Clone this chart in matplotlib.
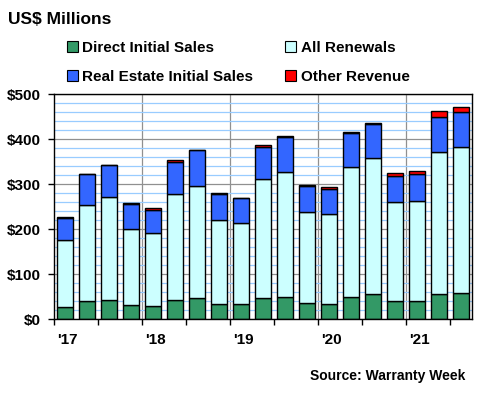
import matplotlib
matplotlib.use("Agg")
import matplotlib.pyplot as plt
from matplotlib.patches import Patch
from matplotlib.ticker import MultipleLocator, FixedLocator, NullFormatter, FuncFormatter
import numpy as np

plt.rcParams['font.family'] = ['Liberation Sans', 'DejaVu Sans']
plt.rcParams['font.weight'] = 'bold'

# quarterly data, 2017Q1 .. 2021Q3 (US$ millions)
quarters = ['17Q1', '17Q2', '17Q3', '17Q4', '18Q1', '18Q2', '18Q3', '18Q4',
            '19Q1', '19Q2', '19Q3', '19Q4', '20Q1', '20Q2', '20Q3', '20Q4',
            '21Q1', '21Q2', '21Q3']
direct_initial = [27, 40, 42, 32, 30, 44, 47, 33, 33, 47, 50, 36, 33, 50, 56, 40, 40, 56, 58]
renewals = [149, 213, 229, 168, 161, 234, 249, 187, 180, 264, 277, 202, 200, 288, 302, 220, 224, 315, 326]
real_estate = [49, 71, 73, 56, 53, 72, 80, 58, 56, 73, 78, 58, 57, 75, 75, 58, 58, 78, 76]
other = [2, 0, 0, 3, 3, 3, 0, 3, 0, 3, 3, 3, 3, 3, 4, 7, 7, 13, 11]

year_labels = ["'17", "'18", "'19", "'20", "'21"]

c_direct = '#339966'
c_renew = '#CCFFFF'
c_real = '#3366FF'
c_other = '#FF0000'

fig = plt.figure(figsize=(4.8, 4.0), dpi=100)
ax = fig.add_axes([54.3 / 480, 1 - 319.3 / 400, (472 - 54.3) / 480, 225 / 400])

x = np.arange(len(quarters))
w = 0.72
d = np.array(direct_initial)
r = np.array(renewals)
re = np.array(real_estate)
o = np.array(other)

kw = dict(width=w, edgecolor='black', linewidth=1.0, zorder=3)
ax.bar(x, d, color=c_direct, **kw)
ax.bar(x, r, bottom=d, color=c_renew, **kw)
ax.bar(x, re, bottom=d + r, color=c_real, **kw)
ax.bar(x, o, bottom=d + r + re, color=c_other, **kw)

ax.set_xlim(-0.5, len(quarters) - 0.5)
ax.set_ylim(0, 500)

# gridlines
ax.yaxis.set_major_locator(MultipleLocator(100))
ax.yaxis.set_minor_locator(MultipleLocator(20))
ax.yaxis.set_major_formatter(FuncFormatter(lambda v, p: '$%d' % v))
ax.grid(axis='y', which='minor', color='#99CCFF', linewidth=0.9, zorder=0)
ax.grid(axis='y', which='major', color='#909090', linewidth=0.9, zorder=1)
for xb in [3.5, 7.5, 11.5, 15.5]:
    ax.axvline(xb, color='#909090', linewidth=0.9, zorder=1)

ax.tick_params(axis='y', which='major', length=4, width=1, labelsize=11, pad=6)
ax.tick_params(axis='y', which='minor', length=0)

# x ticks every half year, year labels as text
ax.xaxis.set_major_locator(FixedLocator(np.arange(-0.5, len(quarters), 2)))
ax.xaxis.set_major_formatter(NullFormatter())
ax.tick_params(axis='x', which='major', length=4, width=1)
for i, lab in enumerate(year_labels):
    ax.text(4 * i + 0.1, -0.093, lab, transform=ax.get_xaxis_transform(),
            ha='center', va='center', fontsize=11, fontweight='bold')

for s in ax.spines.values():
    s.set_color('black')
    s.set_linewidth(1.0)
    s.set_zorder(5)

fig.text(8 / 480, 1 - 19 / 400, 'US$ Millions', fontsize=12.5, fontweight='bold',
         ha='left', va='center')
fig.text(465 / 480, 1 - 376 / 400, 'Source: Warranty Week', fontsize=10,
         fontweight='bold', ha='right', va='center')

handles = [Patch(facecolor=c_direct, edgecolor='black', linewidth=0.8),
           Patch(facecolor=c_real, edgecolor='black', linewidth=0.8),
           Patch(facecolor=c_renew, edgecolor='black', linewidth=0.8),
           Patch(facecolor=c_other, edgecolor='black', linewidth=0.8)]
labels = ['Direct Initial Sales', 'Real Estate Initial Sales', 'All Renewals', 'Other Revenue']
fig.legend(handles, labels, ncol=2, loc='upper left', frameon=False,
           bbox_to_anchor=(67 / 480, 1 - 41 / 400), borderaxespad=0, borderpad=0,
           fontsize=11, handlelength=0.7, handleheight=0.7, handletextpad=0.3,
           labelspacing=0.95, columnspacing=2.1)

fig.savefig('out.png', dpi=100)
